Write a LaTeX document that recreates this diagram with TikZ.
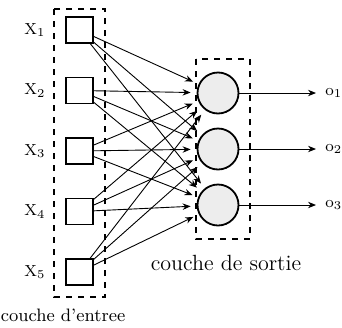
\documentclass[tikz,border=0pt]{standalone}
\usetikzlibrary{arrows.meta}

\begin{document}
\begin{tikzpicture}[x=0.5pt,y=-0.5pt,
  inbox/.style={draw,line width=0.7pt,minimum width=13.5pt,minimum height=13pt,inner sep=0pt},
  outcirc/.style={draw,circle,line width=0.9pt,fill=black!7,minimum size=20.5pt,inner sep=0pt},
  layer/.style={draw,dashed,line width=0.7pt},
  link/.style={-{Stealth[length=4pt,width=3.2pt]},line width=0.45pt},
  lbl/.style={font=\fontsize{8}{9}\selectfont,inner sep=0pt}]
  \path[use as bounding box] (0,0) rectangle (342,327);

  \draw[layer] (54,9) rectangle (105,297);
  \foreach \i/\y in {1/30,2/90.5,3/151,4/211.5,5/272} {
    \node[inbox] (x\i) at (79.5,\y) {};
    \node[lbl] (lx\i) at (35,\y) {X$_\i$};
  }
  \node[font=\fontsize{9}{10}\selectfont] (lin) at (63,315) {couche d'entree};

  \draw[layer] (196,59) rectangle (250,239);
  \foreach \j/\y in {1/93,2/149,3/205} {
    \node[outcirc] (o\j) at (218,\y) {};
    \coordinate (e\j) at (316,\y);
    \node[lbl,anchor=west] (lo\j) at (325,\y) {o$_\j$};
    \draw[link] (o\j) -- (e\j);
  }
  \node[font=\fontsize{11}{12}\selectfont] (lout) at (226,263) {couche de sortie};

  \foreach \i in {1,...,5} {
    \foreach \j in {1,2,3} {
      \draw[link,shorten >=3pt] (x\i) -- (o\j);
    }
  }

\end{tikzpicture}
\end{document}
